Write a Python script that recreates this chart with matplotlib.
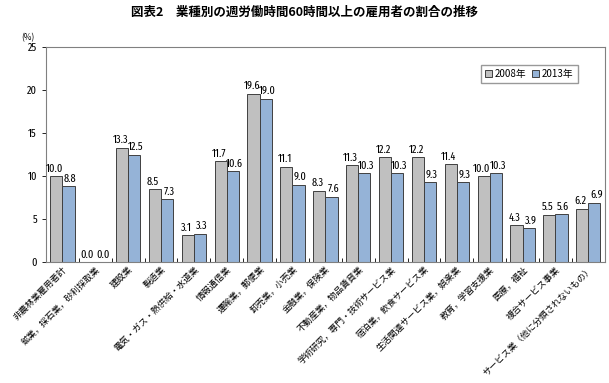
import numpy as np
import matplotlib
matplotlib.use("Agg")
import matplotlib.pyplot as plt

plt.rcParams['font.family'] = ['Noto Sans CJK JP', 'DejaVu Sans']
num_font = ['Fira Sans Extra Condensed', 'Liberation Sans']

categories = [
    "非農林業雇用者計",
    "鉱業，採石業，砂利採取業",
    "建設業",
    "製造業",
    "電気・ガス・熱供給・水道業",
    "情報通信業",
    "運輸業，郵便業",
    "卸売業，小売業",
    "金融業，保険業",
    "不動産業，物品賃貸業",
    "学術研究，専門・技術サービス業",
    "宿泊業，飲食サービス業",
    "生活関連サービス業，娯楽業",
    "教育，学習支援業",
    "医療，福祉",
    "複合サービス事業",
    "サービス業（他に分類されないもの）",
]
y2008 = [10.0, 0.0, 13.3, 8.5, 3.1, 11.7, 19.6, 11.1, 8.3, 11.3, 12.2, 12.2, 11.4, 10.0, 4.3, 5.5, 6.2]
y2013 = [8.8, 0.0, 12.5, 7.3, 3.3, 10.6, 19.0, 9.0, 7.6, 10.3, 10.3, 9.3, 9.3, 10.3, 3.9, 5.6, 6.9]

fig = plt.figure(figsize=(6.09, 3.83), dpi=100)
ax = fig.add_axes([0.0755, 0.316, 0.9175, 0.561])

x = np.arange(len(categories))
w = 0.37
b1 = ax.bar(x - w / 2, y2008, w, color="#c0c0c0", edgecolor="#404040", linewidth=0.7, label="2008年")
b2 = ax.bar(x + w / 2, y2013, w, color="#95b3d7", edgecolor="#404040", linewidth=0.7, label="2013年")

# labels pushed slightly apart so pairs don't collide
for bars, dx in ((b1, -1.3), (b2, 1.3)):
    for r in bars:
        ax.annotate(f"{r.get_height():.1f}", (r.get_x() + r.get_width() / 2, r.get_height()),
                    xytext=(dx, 1.5), textcoords="offset points",
                    ha="center", va="bottom", fontsize=8, family=num_font)

ax.set_xlim(-0.5, len(categories) - 0.5)
ax.set_ylim(0, 25)
ax.set_yticks([0, 5, 10, 15, 20, 25])
ax.tick_params(axis="y", labelsize=8, length=3, width=0.6)
for t in ax.get_yticklabels():
    t.set_family(num_font)
ax.set_xticks(x)
ax.set_xticklabels(categories, rotation=45, ha="right", va="top", rotation_mode="anchor", fontsize=6.4)
ax.tick_params(axis="x", length=0, pad=2)
ax.set_xticks(np.arange(len(categories) + 1) - 0.5, minor=True)
ax.tick_params(axis="x", which="minor", length=3, width=0.6, direction="in")
for s in ax.spines.values():
    s.set_color("#808080")
    s.set_linewidth(0.8)

ax.legend(loc="upper right", bbox_to_anchor=(0.96, 0.94), fontsize=7, ncol=2, frameon=True,
          fancybox=False, edgecolor="#808080", handlelength=0.7, handleheight=0.7,
          handletextpad=0.3, columnspacing=0.6, borderpad=0.4)

fig.text(0.045, 0.895, "(%)", fontsize=6, ha="center")
fig.suptitle("図表2　業種別の週労働時間60時間以上の雇用者の割合の推移", x=0.5, y=0.985,
             fontsize=9, fontweight="bold")

fig.savefig("out.png", dpi=100)
